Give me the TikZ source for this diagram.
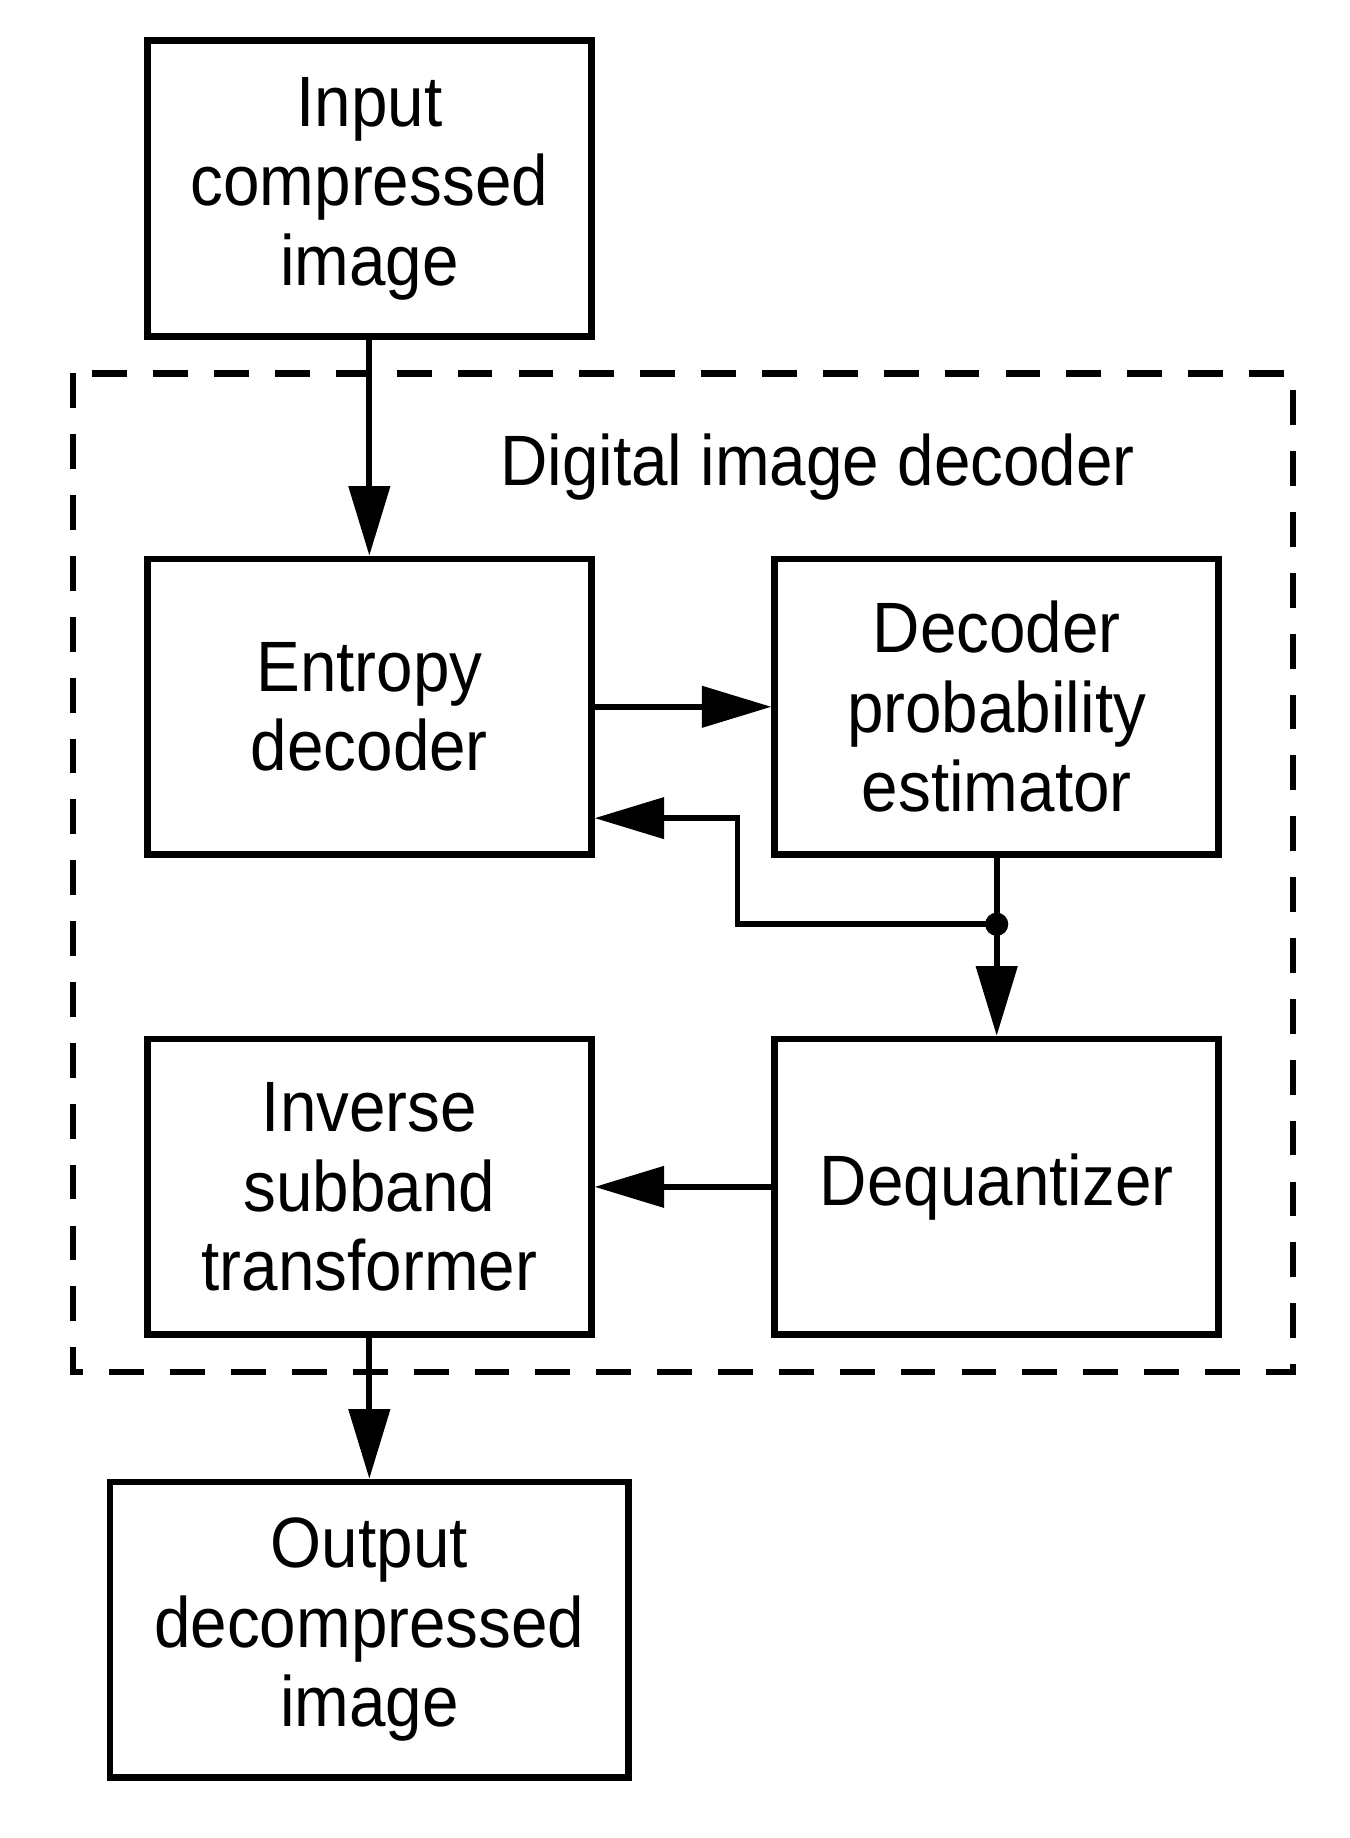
\documentclass[tikz,border=0pt]{standalone}
\usepackage{fontspec}
\setmainfont{Liberation Sans}[FakeStretch=0.92]
\usetikzlibrary{arrows.meta, positioning, calc, fit}

\begin{document}
\begin{tikzpicture}[
    x=0.02cm, y=-0.02cm,
    font=\fontsize{35}{39}\selectfont,
    line width=2.8pt,
    block/.style={
      draw,
      line width=3.2pt,
      align=center,
      minimum width=7.66cm,
      minimum height=5.1cm
    },
    arrow/.style={-{Triangle[length=1.2cm, width=0.7cm]}, line width=2.8pt}
]
\useasboundingbox (0,0) rectangle (1164,1585);
% dashed decoder frame
\draw[dashed, dash pattern=on 0.6cm off 0.45cm, line width=3.2pt] (63,322) rectangle (1115,1183);
\node (title) at (705,403) {Digital image decoder};
\node[block] (input) at (318.5,162.5) {Input\\compressed\\image};
\node[block] (entropy) at (318.5,609.5) {Entropy\\decoder};
\node[block] (estimator) at (859.5,609.5) {Decoder\\probability\\estimator};
\node[block] (inverse) at (318.5,1023.5) {Inverse\\subband\\transformer};
\node[block] (dequant) at (859.5,1023.5) {Dequantizer};
\node[block, minimum width=8.94cm] (output) at (318.5,1405.5) {Output\\decompressed\\image};
\coordinate (split) at (859.5,797);
\coordinate (bend) at (636,797);
\draw[arrow] (input) -- (entropy);
\draw[arrow] (entropy) -- (estimator);
\draw (estimator) -- (split);
\draw[arrow] (split) -- (bend) |- ($(entropy.east)+(0,96)$);
\fill (split) circle (0.2cm);
\draw[arrow] (split) -- (dequant);
\draw[arrow] (dequant) -- (inverse);
\draw[arrow] (inverse) -- (output);
\end{tikzpicture}
\end{document}
